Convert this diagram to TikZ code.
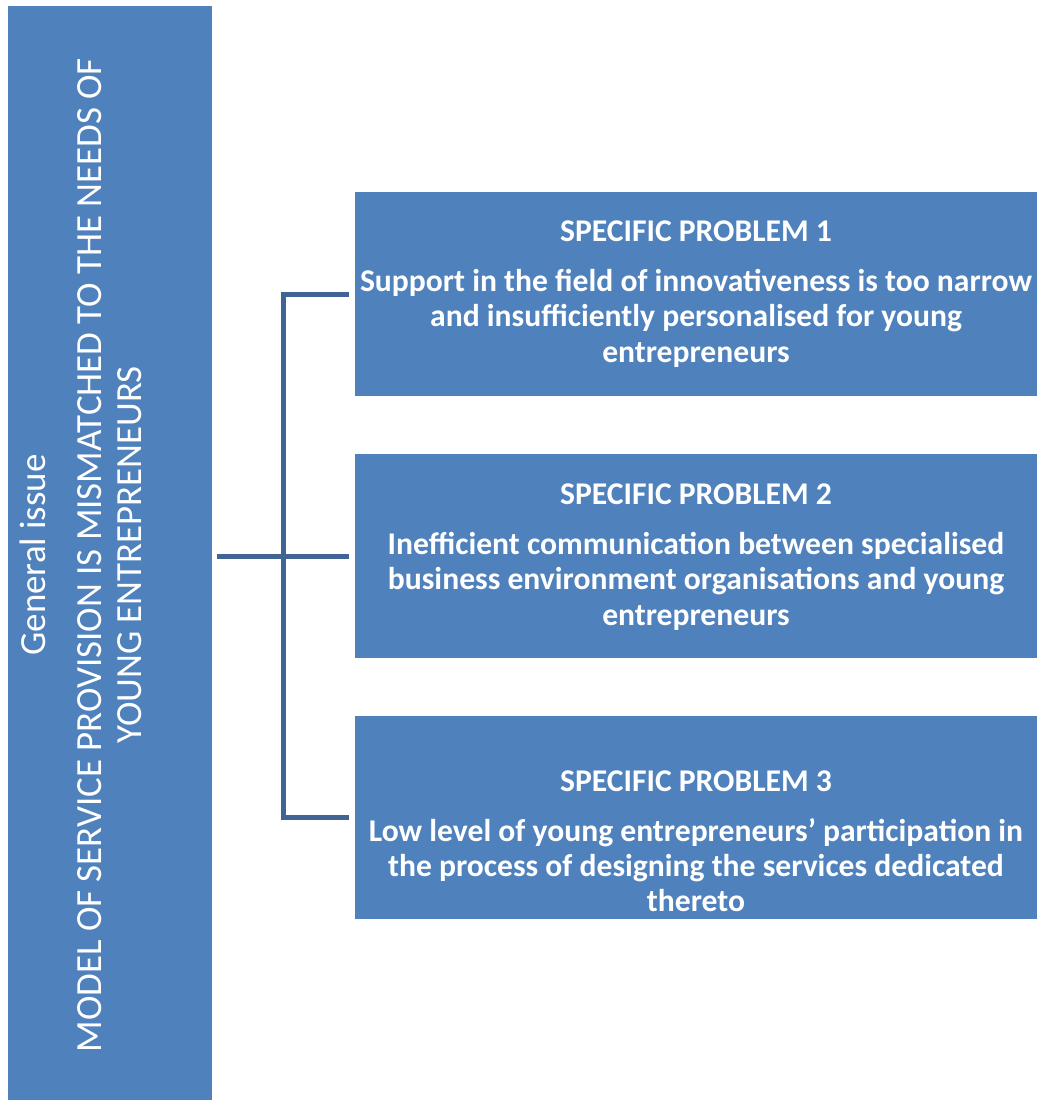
\documentclass[tikz,border=0pt]{standalone}
\usepackage{fontspec}
\setmainfont{Carlito}
\usepackage{xcolor}
\usetikzlibrary{positioning}

\definecolor{boxblue}{RGB}{79,129,189}
\definecolor{linkblue}{RGB}{64,100,148}

\tikzset{
  issuebox/.style={fill=boxblue, minimum width=4.08cm, minimum height=21.9cm, inner sep=0pt},
  issuetext/.style={text=white, rotate=90, anchor=north, align=center, font=\fontsize{21}{23}\selectfont},
  problembox/.style={fill=boxblue, minimum width=13.64cm, minimum height=4.08cm, inner sep=0pt},
  problemtext/.style={text=white, align=center, font=\bfseries\fontsize{18}{20}\selectfont},
  link/.style={draw=linkblue, line width=0.1cm}
}

\begin{document}
\begin{tikzpicture}[x=0.02cm, y=-0.02cm]
  \useasboundingbox (0,0) rectangle (1041,1100);

  % general issue on the left
  \node[issuebox] (issue) at (110,553.5) {};
  \node[issuetext] (issuelbl) at (14,555) {General issue\\[0.3cm]
    MODEL OF SERVICE PROVISION IS MISMATCHED TO THE NEEDS OF\\
    YOUNG ENTREPRENEURS};

  % specific problems
  \node[problembox] (p1) at (696,294) {};
  \node[problembox] (p2) at (696,556) {};
  \node[problembox] (p3) at (696,817.5) {};

  \node[problemtext] (t1) at ([yshift=0cm]p1.center) {SPECIFIC PROBLEM 1\\[0.3cm]
    Support in the field of innovativeness is too narrow\\
    and insufficiently personalised for young\\
    entrepreneurs};
  \node[problemtext] (t2) at ([yshift=-0.02cm]p2.center) {SPECIFIC PROBLEM 2\\[0.3cm]
    Inefficient communication between specialised\\
    business environment organisations and young\\
    entrepreneurs};
  \node[problemtext] (t3) at ([yshift=-0.48cm]p3.center) {SPECIFIC PROBLEM 3\\[0.3cm]
    Low level of young entrepreneurs’ participation in\\
    the process of designing the services dedicated\\
    thereto};

  % bracket
  \coordinate (bus) at (283,556);
  \draw[link] ([xshift=0.1cm]issue.east |- p2.west) -- ([xshift=-0.12cm]p2.west);
  \draw[link] ([xshift=-0.12cm]p1.west) -| (bus |- p3.west) -- ([xshift=-0.12cm]p3.west);
\end{tikzpicture}
\end{document}
